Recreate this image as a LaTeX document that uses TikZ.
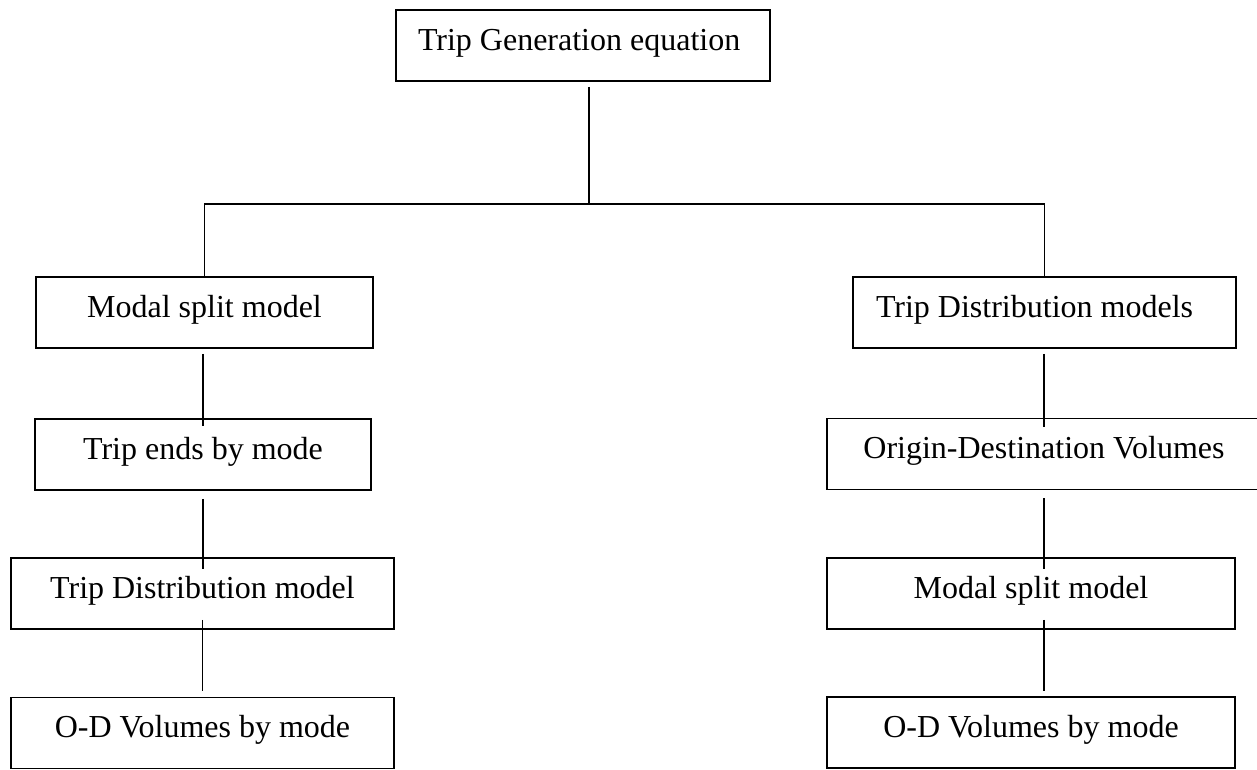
\documentclass[tikz,border=0pt]{standalone}
\usepackage{fontspec}
\setmainfont{Liberation Serif}
\begin{document}
\begin{tikzpicture}[x=1pt,y=-1pt,
  box/.style={draw=black, line width=1.8pt, inner xsep=0pt, inner ysep=0pt,
    minimum height=71pt, text height=22pt, text depth=12.5pt,
    font=\fontsize{32pt}{38pt}\selectfont},
  leftbox/.style={box, align=flush left},
  link/.style={line width=1.8pt}]
\fill[white] (0,0) rectangle (1257,769);
\useasboundingbox (0,0) rectangle (1257,769);

% top of the tree
\node[leftbox, minimum width=374pt, text width=330pt] (T) at (583,45.5) {Trip Generation equation};

% left branch
\node[box, minimum width=337pt] (L1) at (204.5,312.5) {Modal split model};
\node[box, minimum width=336pt] (L2) at (203,454.5) {Trip ends by mode};
\node[box, minimum width=383pt] (L3) at (202.5,593.5) {Trip Distribution model};
\node[box, minimum width=383pt] (L4) at (202.5,733) {O-D Volumes by mode};

% right branch
\node[leftbox, minimum width=383pt, text width=337pt] (R1) at (1044.5,312.5) {Trip Distribution models};
\node[box, minimum width=434pt] (R2) at (1044,454) {Origin-Destination Volumes};
\node[box, minimum width=408pt] (R3) at (1031,593.5) {Modal split model};
\node[box, minimum width=408pt] (R4) at (1031,732.5) {O-D Volumes by mode};

% junction below the top box
\coordinate (J) at (589,204);
\draw[link] ([yshift=-5pt]J |- T.south) -- (J);
\draw[link] (L1.north) -- (L1.north |- J) -- (R1.north |- J) -- (R1.north);

% left chain
\draw[link] ([yshift=-5pt]L2.north |- L1.south) -- ([yshift=-8pt]L2.north);
\draw[link] ([yshift=-8pt]L2.south) -- ([yshift=-12pt]L2.south |- L3.north);
\draw[link] ([yshift=10pt]L3.south) -- ([yshift=6pt]L3.south |- L4.north);

% right chain
\draw[link] ([yshift=-5pt]R2.north |- R1.south) -- ([yshift=-9pt]R2.north);
\draw[link] ([yshift=-8pt]R2.south) -- ([yshift=-12pt]R2.south |- R3.north);
\draw[link] ([yshift=10pt]R2.south |- R3.south) -- ([yshift=5pt]R2.south |- R4.north);
\end{tikzpicture}
\end{document}
